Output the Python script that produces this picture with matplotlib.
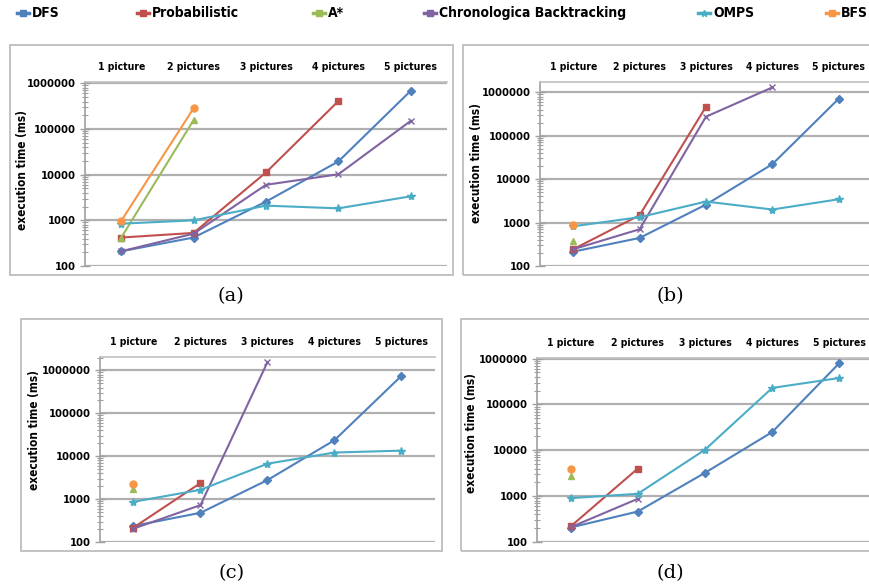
import numpy as np
import matplotlib
matplotlib.use("Agg")
import matplotlib.pyplot as plt
from matplotlib.patches import Rectangle
from matplotlib.lines import Line2D
from matplotlib import font_manager
import matplotlib.transforms as mtransforms

W, H = 870, 588

categories = ['1 picture', '2 pictures', '3 pictures', '4 pictures', '5 pictures']
series_names = ['DFS', 'Probabilistic', 'A*', 'Chronologica Backtracking', 'OMPS', 'BFS']
colors = ['#4F81BD', '#C0504D', '#9BBB59', '#8064A2', '#4BACC6', '#F79646']
markers = ['D', 's', '^', 'x', '*', 'o']
msizes = [4, 5, 5, 5, 6, 5]

# values per panel (None = no measurement)
dfs_a = [210, 420, 2570, 19500, 690000]
prob_a = [420, 530, 11200, 409000, None]
astar_a = [417, 157000, None, None, None]
chrono_a = [210, 510, 6000, 10200, 151000]
omps_a = [845, 1000, 2100, 1830, 3360]
bfs_a = [970, 285000, None, None, None]

dfs_b = [214, 443, 2600, 22200, 715000]
prob_b = [243, 1475, 468000, None, None]
astar_b = [385, None, None, None, None]
chrono_b = [243, 702, 275000, 1300000, None]
omps_b = [822, 1330, 3050, 2000, 3450]
bfs_b = [900, None, None, None, None]

dfs_c = [237, 480, 2780, 23700, 750000]
prob_c = [217, 2370, None, None, None]
astar_c = [1680, None, None, None, None]
chrono_c = [205, 725, 1570000, None, None]
omps_c = [866, 1650, 6700, 12200, 13500]
bfs_c = [2280, None, None, None, None]

dfs_d = [207, 462, 3230, 25000, 800000]
prob_d = [218, 4000, None, None, None]
astar_d = [2690, None, None, None, None]
chrono_d = [210, 875, None, None, None]
omps_d = [905, 1125, 10300, 229000, 378000]
bfs_d = [3950, None, None, None, None]

panels = [
    ([dfs_a, prob_a, astar_a, chrono_a, omps_a, bfs_a], '(a)'),
    ([dfs_b, prob_b, astar_b, chrono_b, omps_b, bfs_b], '(b)'),
    ([dfs_c, prob_c, astar_c, chrono_c, omps_c, bfs_c], '(c)'),
    ([dfs_d, prob_d, astar_d, chrono_d, omps_d, bfs_d], '(d)'),
]

# pixel layout: axes (left, right, top, bottom), ymax, box (l, r, t, b), caption (x, y), ylabel (x, y)
axes_px = [(85, 447, 82, 266), (540, 872, 82, 266), (100, 435, 357, 542), (537, 873, 358, 542)]
ymax = [1.07e6, 1.73e6, 2.06e6, 1.03e6]
box_px = [(10, 453, 45, 275), (463, 875, 45, 275), (21, 442, 319, 551), (461, 875, 319, 551)]
cap_px = [(231, 296), (670, 296), (232, 573), (670, 573)]
ylab_px = [(23, 170), (477, 163), (35, 430), (472, 433)]

cond = font_manager.FontProperties(family='DejaVu Sans', stretch='condensed', weight='bold')

fig = plt.figure(figsize=(W / 100, H / 100), dpi=100)

for (l, r, t, b) in box_px:
    fig.patches.append(Rectangle((l / W, 1 - b / H), (r - l) / W, (b - t) / H,
                                 transform=fig.transFigure, fill=False,
                                 edgecolor='#BDBDBD', lw=1.3))

for i, (data, cap) in enumerate(panels):
    l, r, t, b = axes_px[i]
    ax = fig.add_axes([l / W, 1 - b / H, (r - l) / W, (b - t) / H])
    x = np.arange(len(categories))
    for s, vals in enumerate(data):
        y = np.array([np.nan if v is None else v for v in vals], dtype=float)
        ax.plot(x, y, color=colors[s], marker=markers[s], markersize=msizes[s],
                lw=1.5, markeredgewidth=1.0, clip_on=False, zorder=3)
    ax.set_yscale('log')
    ax.set_ylim(100, ymax[i])
    ax.set_xlim(-0.5, 4.5)
    ax.set_yticks([100, 1000, 10000, 100000, 1000000])
    ax.set_yticklabels(['100', '1000', '10000', '100000', '1000000'])
    ax.yaxis.grid(True, which='major', color='#B0B0B0', lw=1.6)
    ax.set_axisbelow(True)
    ax.xaxis.tick_top()
    ax.set_xticks(x)
    ax.set_xticklabels(categories)
    for lab in ax.get_yticklabels():
        lab.set_fontproperties(cond)
        lab.set_fontsize(8)
    for k, lab in enumerate(ax.get_xticklabels()):
        lab.set_fontproperties(cond)
        lab.set_fontsize(7.5)
        if k == 0:
            lab.set_transform(lab.get_transform() +
                              mtransforms.ScaledTranslation(9 / 100, 0, fig.dpi_scale_trans))
    ax.tick_params(axis='x', length=0, pad=7)
    ax.tick_params(axis='y', which='major', direction='inout', length=7, width=1, color='#A0A0A0', pad=3)
    ax.tick_params(axis='y', which='minor', direction='inout', length=5, width=0.8, color='#A0A0A0')
    for side in ['right', 'bottom']:
        ax.spines[side].set_visible(False)
    ax.spines['left'].set_color('#A0A0A0')
    ax.spines['left'].set_linewidth(1.2)
    ax.spines['top'].set_color('#C0C0C0')
    ax.spines['top'].set_linewidth(1.2)
    fig.text(ylab_px[i][0] / W, 1 - ylab_px[i][1] / H, 'execution time (ms)', rotation=90,
             ha='center', va='center', fontproperties=cond, fontsize=8.5)
    fig.text(cap_px[i][0] / W, 1 - cap_px[i][1] / H, cap, ha='center', va='center',
             fontsize=14, family='DejaVu Serif')

# legend across the top
leg_x = [23, 143, 319, 430, 704, 832]
for s, name in enumerate(series_names):
    xm = leg_x[s] / W
    ym = 1 - 13 / H
    fig.add_artist(Line2D([xm - 6 / W, xm + 6 / W], [ym, ym], color=colors[s], lw=2.5,
                          transform=fig.transFigure))
    fig.add_artist(Line2D([xm], [ym], color=colors[s], marker='s' if s != 4 else '*',
                          markersize=5, transform=fig.transFigure))
    fig.text(xm + 9 / W, ym, name, ha='left', va='center', fontproperties=cond, fontsize=10)

fig.savefig('out.png', dpi=100)
